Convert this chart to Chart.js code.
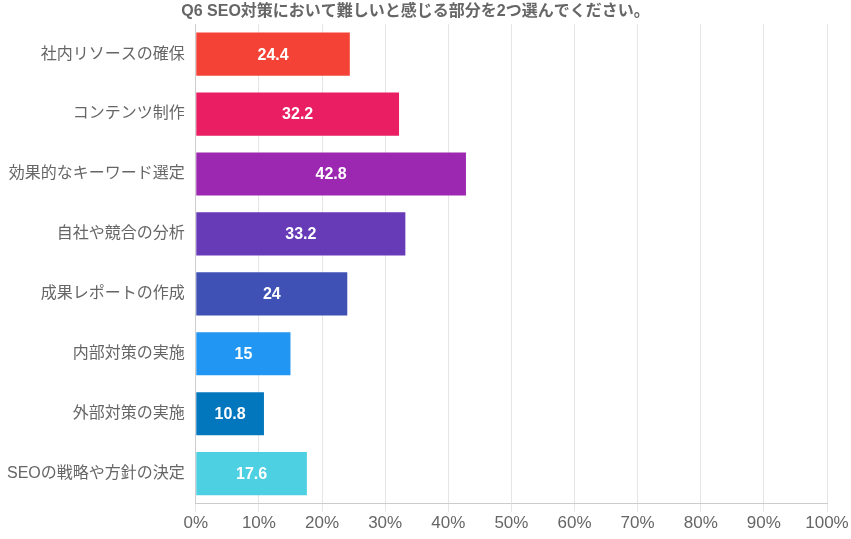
<!DOCTYPE html>
<html>
<head>
<meta charset="utf-8">
<script src="https://cdn.jsdelivr.net/npm/chart.js"></script>
<style>
  html, body { margin: 0; padding: 0; background: #fff; }
  #wrap { width: 851px; height: 539px; }
</style>
</head>
<body>
<div id="wrap"><canvas id="seoChart"></canvas></div>
<script>
var TITLE = 'Q6 SEO対策において難しいと感じる部分を2つ選んでください。';
var CATEGORIES = ['社内リソースの確保', 'コンテンツ制作', '効果的なキーワード選定', '自社や競合の分析',
                  '成果レポートの作成', '内部対策の実施', '外部対策の実施', 'SEOの戦略や方針の決定'];
var VALUES = [24.4, 32.2, 42.8, 33.2, 24, 15, 10.8, 17.6];
var COLORS = ['#F44336', '#E91E63', '#9C27B0', '#673AB7', '#3F51B5', '#2196F3', '#0277BD', '#4DD0E1'];

var FONT = '"Liberation Sans", Arial, "Noto Sans CJK JP", sans-serif';

// draws the value in the middle of each bar
var barLabels = {
    id: 'barLabels',
    afterDatasetsDraw: function (chart) {
        var ctx = chart.ctx;
        var meta = chart.getDatasetMeta(0);
        ctx.save();
        ctx.fillStyle = '#fff';
        ctx.font = 'bold 16px ' + FONT;
        ctx.textAlign = 'center';
        ctx.textBaseline = 'middle';
        meta.data.forEach(function (bar, i) {
            var x = (bar.x + bar.base) / 2;
            ctx.fillText(String(VALUES[i]), x, bar.y + 1);
        });
        ctx.restore();
    }
};

document.addEventListener('DOMContentLoaded', function () {
    var ctx = document.getElementById('seoChart').getContext('2d');
    var seoChart = new Chart(ctx, {
        type: 'bar',
        data: {
            labels: CATEGORIES,
            datasets: [{
                data: VALUES,
                backgroundColor: COLORS,
                borderWidth: 0
            }]
        },
        options: {
            indexAxis: 'y',
            responsive: true,
            maintainAspectRatio: false,
            animation: { duration: 0 },
            layout: { padding: { left: 4, right: 24, top: 0, bottom: 3 } },
            plugins: {
                legend: { display: false },
                tooltip: { enabled: false },
                title: {
                    display: true,
                    text: TITLE,
                    color: '#666',
                    font: { family: FONT, size: 16, weight: 'bold' },
                    padding: { top: 2, bottom: 3 }
                }
            },
            scales: {
                x: {
                    min: 0,
                    max: 100,
                    ticks: {
                        stepSize: 10,
                        color: '#666',
                        padding: 2,
                        font: { family: FONT, size: 17 },
                        callback: function (v) { return v + '%'; }
                    },
                    grid: { color: '#e5e5e5' },
                    border: { color: '#ccc' }
                },
                y: {
                    ticks: {
                        color: '#666',
                        font: { family: FONT, size: 16 }
                    },
                    grid: { display: false },
                    border: { color: '#ccc' }
                }
            }
        },
        plugins: [barLabels]
    });
});
</script>
</body>
</html>
